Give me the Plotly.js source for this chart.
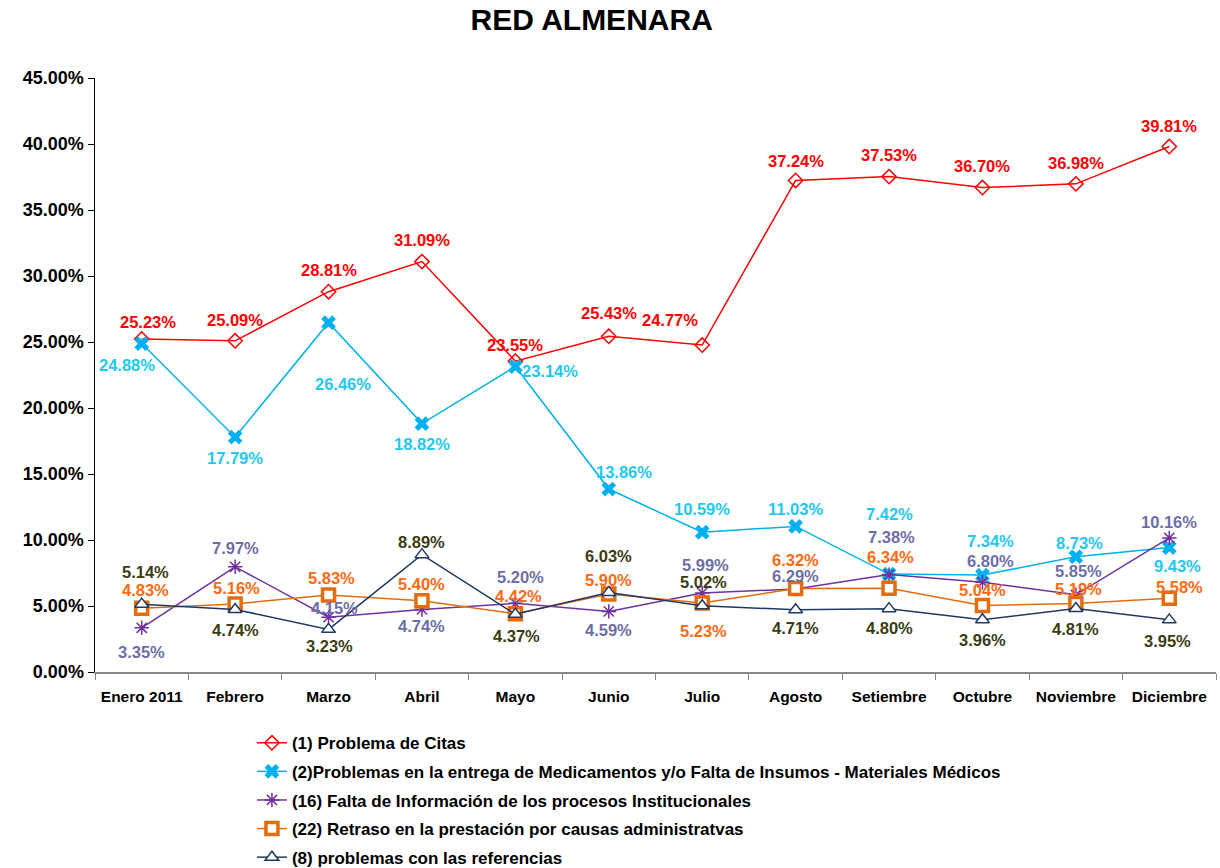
<!DOCTYPE html>
<html>
<head>
<meta charset="utf-8">
<script src="https://cdn.plot.ly/plotly-3.0.1.min.js"></script>
<style>html,body{margin:0;padding:0;background:#fff;}#chart{width:1220px;height:868px;}</style>
</head>
<body>
<div id="chart"></div>
<script>
const months = ["Enero 2011","Febrero","Marzo","Abril","Mayo","Junio","Julio","Agosto","Setiembre","Octubre","Noviembre","Diciembre"];
const citas = [25.23,25.09,28.81,31.09,23.55,25.43,24.77,37.24,37.53,36.70,36.98,39.81];
const medicamentos = [24.88,17.79,26.46,18.82,23.14,13.86,10.59,11.03,7.42,7.34,8.73,9.43];
const faltaInfo = [3.35,7.97,4.15,4.74,5.20,4.59,5.99,6.29,7.38,6.80,5.85,10.16];
const retraso = [4.83,5.16,5.83,5.40,4.42,5.90,5.23,6.32,6.34,5.04,5.19,5.58];
const referencias = [5.14,4.74,3.23,8.89,4.37,6.03,5.02,4.71,4.80,3.96,4.81,3.95];
const seriesNames = [
  "(1) Problema de Citas",
  "(2)Problemas en la entrega de Medicamentos y/o Falta de Insumos - Materiales Médicos",
  "(16) Falta de Información de los procesos Institucionales",
  "(22) Retraso en la prestación por causas administratvas",
  "(8) problemas con las referencias"
];

// label offsets (pixels) [xshift, yshift] per point
const offCitas = [[6,17],[0,21],[0,22],[0,22],[0,16],[0,23],[-32,25],[0,19],[0,22],[0,22],[0,21],[0,21]];
const offMed = [[-15,-21],[0,-21],[14,-61],[0,-20],[35,-4],[15,17],[0,23],[0,17],[0,60],[8,34],[4,14],[8,-18]];
const offFalta = [[0,-24],[0,19],[6,9],[0,-17],[5,26],[0,-19],[3,28],[0,13],[2,38],[8,21],[3,24],[0,16]];
const offRetraso = [[4,18],[1,16],[3,17],[0,17],[3,18],[0,14],[1,-28],[0,29],[1,31],[0,15],[3,14],[10,11]];
const offRef = [[4,32],[0,-21],[1,-17],[0,13],[1,-22],[0,36],[1,24],[0,-18],[0,-19],[0,-20],[0,-20],[-2,-21]];

const FONT = "Liberation Sans, Arial, sans-serif";

const defs = [
  {y: citas, name: seriesNames[0], line: "#ff0000", text: "#ff0000",
   marker: {symbol: "diamond-open", size: 11, color: "#ff0000", line: {width: 1.5, color: "#ff0000"}}, off: offCitas},
  {y: medicamentos, name: seriesNames[1], line: "#00b0f0", text: "#1ec8f5",
   marker: {symbol: "x", size: 13, color: "#00b0f0", line: {width: 0}}, off: offMed},
  {y: faltaInfo, name: seriesNames[2], line: "#7030a0", text: "#6e6ea6",
   marker: {symbol: "asterisk-open", size: 12, color: "#7030a0", line: {width: 1.5, color: "#7030a0"}}, off: offFalta},
  {y: retraso, name: seriesNames[3], line: "#e46c0a", text: "#ff6a10",
   marker: {symbol: "square", size: 12, color: "#ffffff", line: {width: 3.5, color: "#e46c0a"}}, off: offRetraso},
  {y: referencias, name: seriesNames[4], line: "#1f3864", text: "#3c3c12",
   marker: {symbol: "triangle-up", size: 12, color: "#ffffff", line: {width: 1.5, color: "#1f3864"}}, off: offRef}
];

const traces = defs.map((d, k) => ({
  type: "scatter", mode: "lines+markers", x: months, y: d.y, name: d.name,
  line: {color: d.line, width: 1.5}, marker: d.marker, legendgroup: "g" + k,
  hoverinfo: "x+y"
}));

const annotations = [];
defs.forEach(d => {
  d.y.forEach((v, i) => {
    annotations.push({
      x: months[i], y: v, xref: "x", yref: "y", showarrow: false,
      text: v.toFixed(2) + "%", xshift: d.off[i][0], yshift: d.off[i][1],
      font: {family: FONT, size: 16.5, color: d.text, weight: "bold"}
    });
  });
});

const layout = {
  width: 1220, height: 868,
  paper_bgcolor: "#fff", plot_bgcolor: "#fff",
  margin: {l: 95, r: 4, t: 78, b: 196, autoexpand: false},
  title: {text: "<b>RED ALMENARA</b>", x: 0.485, xanchor: "center", xref: "container", y: 0.977, yanchor: "middle",
          font: {family: FONT, size: 30, color: "#000"}},
  showlegend: true,
  legend: {x: 0.140, xanchor: "left", y: -0.0896, yanchor: "top", orientation: "v",
           traceorder: "grouped", tracegroupgap: 3.5,
           font: {family: FONT, size: 17, color: "#000", weight: "bold"}},
  xaxis: {type: "category", range: [-0.5, 11.5], tickson: "boundaries", ticks: "outside", ticklen: 6,
          tickangle: 0, automargin: false, ticklabelstandoff: 10,
          tickcolor: "#888", showline: true, linecolor: "#888", linewidth: 1.5, showgrid: false, zeroline: false,
          tickfont: {family: FONT, size: 15.5, color: "#000", weight: "bold"}, fixedrange: true},
  yaxis: {range: [0, 45], dtick: 5, tick0: 0, ticks: "outside", ticklen: 6, tickcolor: "#000",
          showline: true, linecolor: "#000", linewidth: 1.5, showgrid: false, zeroline: false, automargin: false,
          tickformat: ".2f", ticksuffix: "%",
          tickfont: {family: FONT, size: 18, color: "#000", weight: "bold"}, fixedrange: true},
  annotations: annotations
};

Plotly.newPlot("chart", traces, layout, {displayModeBar: false, staticPlot: true});
</script>
</body>
</html>
